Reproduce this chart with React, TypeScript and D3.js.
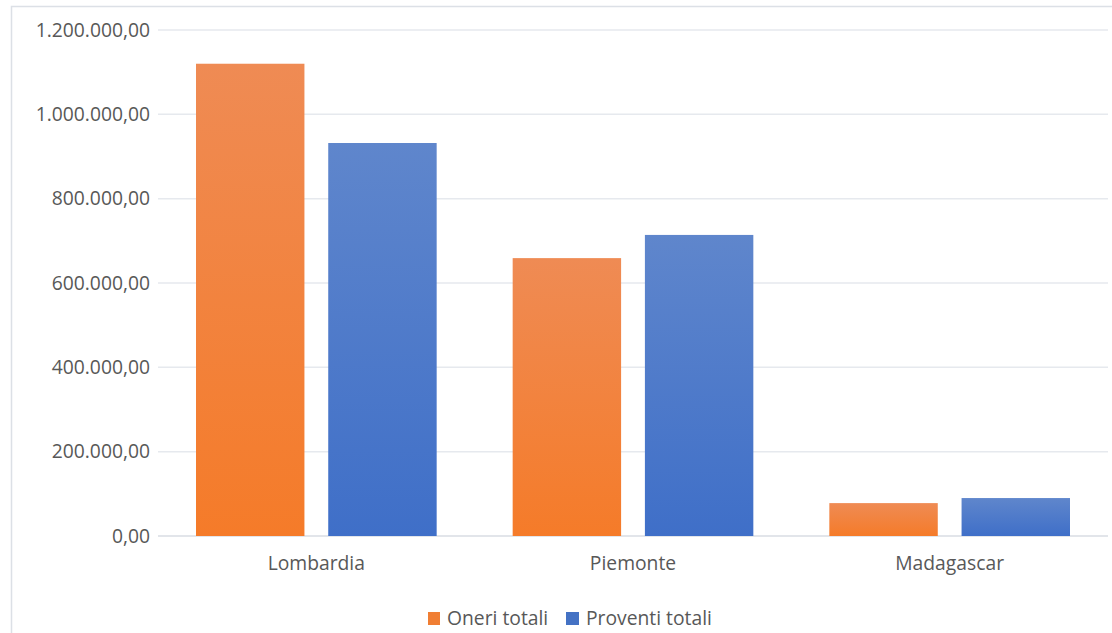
import React from "react";
import * as d3 from "d3";

const categories = ["Lombardia", "Piemonte", "Madagascar"];
const seriesNames = ["Oneri totali", "Proventi totali"];
const oneri = [1120000, 659000, 78000];
const proventi = [932000, 714000, 90000];
const yTicks = [0, 200000, 400000, 600000, 800000, 1000000, 1200000];

const W = 1112;
const H = 633;
const FONT = "'Open Sans', 'Liberation Sans', sans-serif";
const TEXT = "#585858";
const FS = 19.3;

const fmt = (v: number) => {
  const s = Math.round(v).toString().replace(/\B(?=(\d{3})+(?!\d))/g, ".");
  return s + ",00";
};

export default function App() {
  const left = 158;
  const right = 1108;
  const top = 30;
  const bottom = 536;
  const y = d3.scaleLinear().domain([0, 1200000]).range([bottom, top]);
  const x0 = d3.scaleBand<string>().domain(categories).range([left, right]).paddingInner(0.24).paddingOuter(0.12);
  const x1 = d3.scaleBand<string>().domain(seriesNames).range([0, x0.bandwidth()]).paddingInner(0.18);
  const series = [
    { name: seriesNames[0], values: oneri, grad: "gOr", solid: "#F07E33" },
    { name: seriesNames[1], values: proventi, grad: "gBl", solid: "#4472C4" },
  ];
  return (
    <svg width={W} height={H} style={{ position: "absolute", left: 0, top: 0, background: "#fff" }}>
      <defs>
        <linearGradient id="gOr" x1="0" y1="0" x2="0" y2="1">
          <stop offset="0" stopColor="#EF8B54" />
          <stop offset="1" stopColor="#F57B29" />
        </linearGradient>
        <linearGradient id="gBl" x1="0" y1="0" x2="0" y2="1">
          <stop offset="0" stopColor="#5F86CC" />
          <stop offset="1" stopColor="#3F6FC8" />
        </linearGradient>
      </defs>
      <rect x={11.5} y={6.5} width={W + 20} height={H + 20} fill="#fff" stroke="#DCE0E6" strokeWidth={1.5} />
      {yTicks.map((t) => (
        <g key={t}>
          <line x1={left} x2={right} y1={y(t)} y2={y(t)} stroke={t === 0 ? "#D9DDE3" : "#E6E9EE"} strokeWidth={1.5} />
          <text x={150} y={y(t)} dy="0.35em" textAnchor="end" fontFamily={FONT} fontSize={FS} fill={TEXT}>
            {fmt(t)}
          </text>
        </g>
      ))}
      {categories.map((c, i) => (
        <g key={c} transform={`translate(${x0(c)},0)`}>
          {series.map((s) => (
            <rect
              key={s.name}
              x={x1(s.name)}
              y={y(s.values[i])}
              width={x1.bandwidth()}
              height={bottom - y(s.values[i])}
              fill={`url(#${s.grad})`}
            />
          ))}
          <text x={x0.bandwidth() / 2} y={563} dy="0.35em" textAnchor="middle" fontFamily={FONT} fontSize={FS} fill={TEXT}>
            {c}
          </text>
        </g>
      ))}
      <g>
        <rect x={428} y={612} width={12} height={13} fill={series[0].solid} />
        <text x={447} y={618} dy="0.35em" fontFamily={FONT} fontSize={FS} fill={TEXT}>
          {seriesNames[0]}
        </text>
        <rect x={566} y={612} width={13} height={13} fill={series[1].solid} />
        <text x={586} y={618} dy="0.35em" fontFamily={FONT} fontSize={FS} fill={TEXT}>
          {seriesNames[1]}
        </text>
      </g>
    </svg>
  );
}
